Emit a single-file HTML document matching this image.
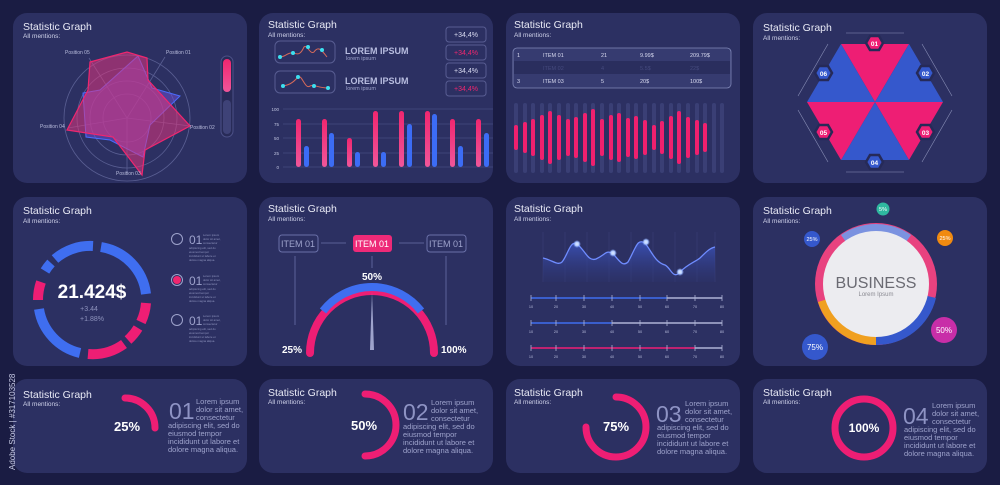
<!DOCTYPE html>
<html><head><meta charset="utf-8"><style>
html,body{margin:0;padding:0;background:#1a1c43;}
svg{display:block}
text{font-family:"Liberation Sans",sans-serif;}
.t{fill:#e8e9f5;font-size:10.5px}
.s{fill:#cfd2ea;font-size:6.5px}
.sm{fill:#b8bcdc;font-size:5px}
.lt{fill:#9ea3cc;font-size:7.5px}
</style></head><body>
<svg width="1000" height="485" viewBox="0 0 1000 485">
<rect width="1000" height="485" fill="#1a1c43"/>
<defs>
<linearGradient id="pk" x1="0" y1="0" x2="0" y2="1"><stop offset="0" stop-color="#f0266f"/><stop offset="1" stop-color="#f0569a"/></linearGradient>
<linearGradient id="area" x1="0" y1="0" x2="0" y2="1"><stop offset="0" stop-color="#3d57c8" stop-opacity=".8"/><stop offset="1" stop-color="#2d3470" stop-opacity=".3"/></linearGradient>
</defs>
<g fill="#2c3062">
<rect x="13" y="13" width="234" height="170" rx="14"/>
<rect x="259" y="13" width="234" height="170" rx="14"/>
<rect x="506" y="13" width="234" height="170" rx="14"/>
<rect x="753" y="13" width="234" height="170" rx="14"/>
<rect x="13" y="197" width="234" height="169" rx="14"/>
<rect x="259" y="197" width="234" height="169" rx="14"/>
<rect x="506" y="197" width="234" height="169" rx="14"/>
<rect x="753" y="197" width="234" height="169" rx="14"/>
<rect x="13" y="379" width="234" height="94" rx="14"/>
<rect x="259" y="379" width="234" height="94" rx="14"/>
<rect x="506" y="379" width="234" height="94" rx="14"/>
<rect x="753" y="379" width="234" height="94" rx="14"/>
</g>
<!-- titles -->
<text class="t" x="23" y="30">Statistic Graph</text><text class="s" x="23" y="38">All mentions:</text>
<text class="t" x="268" y="28">Statistic Graph</text><text class="s" x="268" y="37">All mentions:</text>
<text class="t" x="514" y="28">Statistic Graph</text><text class="s" x="514" y="37">All mentions:</text>
<text class="t" x="763" y="31">Statistic Graph</text><text class="s" x="763" y="40">All mentions:</text>
<text class="t" x="23" y="214">Statistic Graph</text><text class="s" x="23" y="223">All mentions:</text>
<text class="t" x="268" y="212">Statistic Graph</text><text class="s" x="268" y="221">All mentions:</text>
<text class="t" x="514" y="212">Statistic Graph</text><text class="s" x="514" y="221">All mentions:</text>
<text class="t" x="763" y="214">Statistic Graph</text><text class="s" x="763" y="223">All mentions:</text>
<text class="t" x="23" y="398">Statistic Graph</text><text class="s" x="23" y="406">All mentions:</text>
<text class="t" x="268" y="396">Statistic Graph</text><text class="s" x="268" y="404">All mentions:</text>
<text class="t" x="514" y="396">Statistic Graph</text><text class="s" x="514" y="404">All mentions:</text>
<text class="t" x="763" y="396">Statistic Graph</text><text class="s" x="763" y="404">All mentions:</text>

<!-- Panel 1 radar -->
<g fill="none" stroke="#5a5f93" stroke-width=".8">
<circle cx="127" cy="118" r="63"/><circle cx="127" cy="118" r="50"/><circle cx="127" cy="118" r="37"/><circle cx="127" cy="118" r="24"/>
<line x1="127" y1="118" x2="165" y2="57"/><line x1="127" y1="118" x2="190" y2="126"/><line x1="127" y1="118" x2="127" y2="173"/><line x1="127" y1="118" x2="68" y2="128"/><line x1="127" y1="118" x2="89" y2="58"/>
</g>
<polygon points="138,56 152,88 180,96 150,125 143,157 110,140 86,137 83,93 100,90" fill="#6b4fd0" fill-opacity=".55" stroke="#4a6cff" stroke-width="1"/>
<polygon points="90,62 127,52 147,58 148,80 190,126 145,150 142,175 113,137 67,130 88,90" fill="#e0347e" fill-opacity=".55" stroke="#f0266f" stroke-width="1.2"/>
<g class="sm" fill="#d0d3ee"><text x="65" y="54">Position 05</text><text x="166" y="54">Position 01</text><text x="190" y="129">Position 02</text><text x="116" y="175">Position 03</text><text x="40" y="128">Position 04</text></g>
<rect x="221" y="56" width="12" height="81" rx="6" fill="#282b58" stroke="#4c5188"/>
<rect x="223" y="59" width="8" height="33" rx="4" fill="url(#pk)"/>
<rect x="223" y="100" width="8" height="34" rx="4" fill="#3e4277"/>

<!-- Panel 2 -->
<g fill="none" stroke="#585d92"><rect x="275" y="41" width="60" height="22" rx="5"/><rect x="275" y="71" width="60" height="22" rx="5"/></g>
<path d="M280,57 C285,57 288,52 293,53 C297,54 300,56 304,47 C307,44 310,55 314,52 C318,46 321,49 327,57" fill="none" stroke="#d66a5a" stroke-width="1"/>
<path d="M283,86 C288,85 292,84 298,77 C302,74 305,90 310,86 C314,84 318,88 328,88" fill="none" stroke="#d66a5a" stroke-width="1"/>
<g fill="#3de0f0"><circle cx="280" cy="57" r="2"/><circle cx="293" cy="53" r="2"/><circle cx="308" cy="47" r="2"/><circle cx="322" cy="50" r="2"/><circle cx="283" cy="86" r="2"/><circle cx="298" cy="77" r="2"/><circle cx="314" cy="86" r="2"/><circle cx="328" cy="88" r="2"/></g>
<text x="345" y="54" fill="#b8bde0" font-size="9" font-weight="bold">LOREM IPSUM</text><text x="346" y="60" fill="#9ea3cc" font-size="5.5">lorem ipsum</text>
<text x="345" y="84" fill="#b8bde0" font-size="9" font-weight="bold">LOREM IPSUM</text><text x="346" y="90" fill="#9ea3cc" font-size="5.5">lorem ipsum</text>
<g fill="none" stroke="#585d92"><rect x="446" y="27" width="40" height="15" rx="3"/><rect x="446" y="45" width="40" height="15" rx="3"/><rect x="446" y="63" width="40" height="15" rx="3"/><rect x="446" y="81" width="40" height="15" rx="3"/></g>
<g font-size="7" text-anchor="middle"><text x="466" y="37" fill="#d8daf0">+34,4%</text><text x="466" y="55" fill="#f0266f">+34,4%</text><text x="466" y="73" fill="#d8daf0">+34,4%</text><text x="466" y="91" fill="#f0266f">+34,4%</text></g>
<g stroke="#444a80" stroke-width=".7"><line x1="283" y1="109" x2="493" y2="109"/><line x1="283" y1="124" x2="493" y2="124"/><line x1="283" y1="138" x2="493" y2="138"/><line x1="283" y1="153" x2="493" y2="153"/><line x1="283" y1="167" x2="493" y2="167"/></g>
<g fill="#c0c4e0" font-size="4.5" text-anchor="end"><text x="279" y="111">100</text><text x="279" y="126">75</text><text x="279" y="140">50</text><text x="279" y="155">25</text><text x="279" y="169">0</text></g>
<g fill="url(#pk)"><rect x="296" y="119" width="5" height="48" rx="2.5"/><rect x="322" y="119" width="5" height="48" rx="2.5"/><rect x="347" y="138" width="5" height="29" rx="2.5"/><rect x="373" y="111" width="5" height="56" rx="2.5"/><rect x="399" y="111" width="5" height="56" rx="2.5"/><rect x="425" y="111" width="5" height="56" rx="2.5"/><rect x="450" y="119" width="5" height="48" rx="2.5"/><rect x="476" y="119" width="5" height="48" rx="2.5"/></g>
<g fill="#3c6cf5"><rect x="304" y="146" width="5" height="21" rx="2.5"/><rect x="329" y="133" width="5" height="34" rx="2.5"/><rect x="355" y="152" width="5" height="15" rx="2.5"/><rect x="381" y="152" width="5" height="15" rx="2.5"/><rect x="407" y="124" width="5" height="43" rx="2.5"/><rect x="432" y="114" width="5" height="53" rx="2.5"/><rect x="458" y="146" width="5" height="21" rx="2.5"/><rect x="484" y="133" width="5" height="34" rx="2.5"/></g>

<!-- Panel 3 table -->
<rect x="513" y="48" width="218" height="40" rx="4" fill="#363b70" stroke="#8088b8" stroke-width=".8"/>
<rect x="514" y="61" width="216" height="13" fill="#2a2e5e"/>
<g fill="#d8daf0" font-size="5.5"><text x="517" y="57">1</text><text x="543" y="57">ITEM 01</text><text x="601" y="57">21</text><text x="640" y="57">9.99$</text><text x="690" y="57">209.79$</text>
<text x="517" y="83">3</text><text x="543" y="83">ITEM 03</text><text x="601" y="83">5</text><text x="640" y="83">20$</text><text x="690" y="83">100$</text></g>
<g fill="#454a7e" font-size="5.5"><text x="543" y="70">ITEM 02</text><text x="601" y="70">4</text><text x="640" y="70">5.5$</text><text x="690" y="70">22$</text></g>
<g id="wbars"></g>

<!-- Panel 4 hex -->
<polygon points="875,102 841,44 909,44" fill="#ee1e74"/>
<polygon points="875,102 909,44 943,102" fill="#3558cc"/>
<polygon points="875,102 943,102 909,160" fill="#ee1e74"/>
<polygon points="875,102 909,160 841,160" fill="#3558cc"/>
<polygon points="875,102 841,160 807,102" fill="#ee1e74"/>
<polygon points="875,102 807,102 841,44" fill="#3558cc"/>
<g stroke="#8a8fb8" stroke-width=".6" fill="none"><line x1="846" y1="33" x2="904" y2="33"/><line x1="922" y1="44" x2="952" y2="96"/><line x1="952" y1="110" x2="922" y2="162"/><line x1="846" y1="172" x2="904" y2="172"/><line x1="828" y1="162" x2="798" y2="110"/><line x1="798" y1="96" x2="828" y2="44"/></g>
<g id="hexb"></g>

<!-- Row2 P1 donut -->
<g fill="none" stroke-width="10">
<circle id="dn" cx="92" cy="300" r="54" stroke="none"/>
</g>
<g id="donut"></g>
<text x="92" y="298" fill="#fff" font-size="19" font-weight="bold" text-anchor="middle">21.424$</text>
<text x="89" y="311" fill="#8e93bd" font-size="7" font-family="Liberation Serif" text-anchor="middle">+3.44</text>
<text x="92" y="321" fill="#8e93bd" font-size="7" font-family="Liberation Serif" text-anchor="middle">+1.88%</text>
<g fill="none" stroke="#9ea3cc"><circle cx="177" cy="239" r="5.5"/><circle cx="177" cy="280" r="5.5"/><circle cx="177" cy="320" r="5.5"/></g>
<circle cx="177" cy="280" r="4" fill="#f0266f"/>
<g fill="#9ea3cc" font-size="12"><text x="189" y="244">01</text><text x="189" y="285">01</text><text x="189" y="325">01</text></g>
<g fill="#8e93bd" font-size="2.8"><text x="203" y="236">Lorem ipsum</text><text x="203" y="240">dolor sit amet,</text><text x="203" y="244">consectetur</text><text x="189" y="249">adipiscing elit, sed do</text><text x="189" y="253">eiusmod tempor</text><text x="189" y="257">incididunt ut labore et</text><text x="189" y="261">dolore magna aliqua.</text>
<text x="203" y="277">Lorem ipsum</text><text x="203" y="281">dolor sit amet,</text><text x="203" y="285">consectetur</text><text x="189" y="290">adipiscing elit, sed do</text><text x="189" y="294">eiusmod tempor</text><text x="189" y="298">incididunt ut labore et</text><text x="189" y="302">dolore magna aliqua.</text>
<text x="203" y="317">Lorem ipsum</text><text x="203" y="321">dolor sit amet,</text><text x="203" y="325">consectetur</text><text x="189" y="330">adipiscing elit, sed do</text><text x="189" y="334">eiusmod tempor</text><text x="189" y="338">incididunt ut labore et</text><text x="189" y="342">dolore magna aliqua.</text></g>

<!-- Row2 P2 gauge -->
<rect x="279" y="235" width="39" height="17" rx="3" fill="none" stroke="#6a70a8"/>
<rect x="353" y="235" width="39" height="17" rx="3" fill="#ee2a78"/>
<rect x="427" y="235" width="39" height="17" rx="3" fill="none" stroke="#6a70a8"/>
<g font-size="9" text-anchor="middle"><text x="298" y="247" fill="#9ea3cc">ITEM 01</text><text x="372" y="247" fill="#fff">ITEM 01</text><text x="446" y="247" fill="#9ea3cc">ITEM 01</text></g>
<g stroke="#6a70a8" stroke-width=".8"><line x1="321" y1="243" x2="346" y2="243"/><line x1="399" y1="243" x2="424" y2="243"/><line x1="295" y1="256" x2="295" y2="325"/><line x1="372" y1="256" x2="372" y2="268"/><line x1="446" y1="256" x2="446" y2="325"/></g>
<text x="372" y="280" fill="#fff" font-size="10" font-weight="bold" text-anchor="middle">50%</text>
<path d="M310,353 A62,62 0 0 1 434,353" fill="none" stroke="#ee1e74" stroke-width="8" stroke-linecap="round"/>
<path d="M323,311 A62,62 0 0 1 421,311" fill="none" stroke="#3f6ef0" stroke-width="8"/>
<polygon points="372,292 370,350 374,350" fill="#9ea3cc"/>
<text x="282" y="353" fill="#fff" font-size="10" font-weight="bold">25%</text>
<text x="441" y="353" fill="#fff" font-size="10" font-weight="bold">100%</text>

<!-- Row2 P3 line chart -->
<g stroke="#3a4078" stroke-width=".5"><line x1="543" y1="232" x2="543" y2="282"/><line x1="565" y1="232" x2="565" y2="282"/><line x1="587" y1="232" x2="587" y2="282"/><line x1="609" y1="232" x2="609" y2="282"/><line x1="631" y1="232" x2="631" y2="282"/><line x1="653" y1="232" x2="653" y2="282"/><line x1="675" y1="232" x2="675" y2="282"/><line x1="697" y1="232" x2="697" y2="282"/><line x1="715" y1="232" x2="715" y2="282"/></g>
<path d="M543,258 C552,260 558,266 562,262 C568,255 570,240 577,244 C585,250 588,262 596,259 C605,255 606,250 612,253 C618,258 622,268 628,262 C636,248 637,238 645,243 C652,252 655,262 665,265 C671,268 673,280 680,272 C688,264 695,262 700,258 C706,252 710,248 715,247 L715,282 L543,282 Z" fill="url(#area)"/>
<path d="M543,258 C552,260 558,266 562,262 C568,255 570,240 577,244 C585,250 588,262 596,259 C605,255 606,250 612,253 C618,258 622,268 628,262 C636,248 637,238 645,243 C652,252 655,262 665,265 C671,268 673,280 680,272 C688,264 695,262 700,258 C706,252 710,248 715,247" fill="none" stroke="#6f8cff" stroke-width="1.3"/>
<g fill="#cfe0ff" stroke="#8fb0ff" stroke-opacity=".5" stroke-width="2"><circle cx="577" cy="244" r="2.5"/><circle cx="613" cy="253" r="2.5"/><circle cx="646" cy="242" r="2.5"/><circle cx="680" cy="272" r="2.5"/></g>
<g id="sliders"></g>

<!-- Row2 P4 business -->
<circle cx="876" cy="284" r="61" fill="#e8427f"/>
<path d="M841,235 A61,61 0 0 1 911,235 L876,284 Z" fill="#7b92e0"/>
<path d="M936,298 A61,61 0 0 1 876,345 L876,284 Z" fill="#3558cc"/>
<path d="M876,345 A61,61 0 0 1 818,302 L876,284 Z" fill="#f0a020"/>
<circle cx="876" cy="284" r="53" fill="#ececf0"/>
<text x="876" y="288" fill="#6a6a72" font-size="16" text-anchor="middle">BUSINESS</text>
<text x="876" y="296" fill="#8a8a92" font-size="6" text-anchor="middle">Lorem  Ipsum</text>
<circle cx="883" cy="209" r="6.5" fill="#2fb8a0"/><text x="883" y="211" fill="#fff" font-size="5.5" text-anchor="middle">5%</text>
<circle cx="812" cy="239" r="8" fill="#3558cc"/><text x="812" y="241" fill="#fff" font-size="5.5" text-anchor="middle">25%</text>
<circle cx="945" cy="238" r="8" fill="#f08a10"/><text x="945" y="240" fill="#fff" font-size="5.5" text-anchor="middle">25%</text>
<circle cx="944" cy="330" r="13" fill="#c82ea8"/><text x="944" y="333" fill="#fff" font-size="8" text-anchor="middle">50%</text>
<circle cx="815" cy="347" r="13" fill="#3558cc"/><text x="815" y="350" fill="#fff" font-size="8" text-anchor="middle">75%</text>

<!-- Row3 rings -->
<path d="M125,398 A30,30 0 0 1 155,428" fill="none" stroke="#ee1e74" stroke-width="7" stroke-linecap="round"/>
<text x="127" y="431" fill="#fff" font-size="13" font-weight="bold" text-anchor="middle">25%</text>
<path d="M365,394 A31,31 0 0 1 365,456" fill="none" stroke="#ee1e74" stroke-width="7" stroke-linecap="round"/>
<text x="364" y="430" fill="#fff" font-size="13" font-weight="bold" text-anchor="middle">50%</text>
<path d="M616,397 A30,30 0 1 1 586,427" fill="none" stroke="#ee1e74" stroke-width="7" stroke-linecap="round"/>
<text x="616" y="431" fill="#fff" font-size="13" font-weight="bold" text-anchor="middle">75%</text>
<circle cx="864" cy="428" r="29" fill="none" stroke="#ee1e74" stroke-width="7"/>
<text x="864" y="432" fill="#fff" font-size="12" font-weight="bold" text-anchor="middle">100%</text>
<g fill="#8e93c4" font-size="23"><text x="169" y="419">01</text><text x="403" y="420">02</text><text x="656" y="422">03</text><text x="903" y="424">04</text></g>
<g class="lt">
<text x="196" y="404">Lorem ipsum</text><text x="196" y="412">dolor sit amet,</text><text x="196" y="420">consectetur</text><text x="168" y="428">adipiscing elit, sed do</text><text x="168" y="436">eiusmod tempor</text><text x="168" y="444">incididunt ut labore et</text><text x="168" y="452">dolore magna aliqua.</text>
<text x="431" y="405">Lorem ipsum</text><text x="431" y="413">dolor sit amet,</text><text x="431" y="421">consectetur</text><text x="403" y="429">adipiscing elit, sed do</text><text x="403" y="437">eiusmod tempor</text><text x="403" y="445">incididunt ut labore et</text><text x="403" y="453">dolore magna aliqua.</text>
<text x="685" y="406">Lorem ipsum</text><text x="685" y="414">dolor sit amet,</text><text x="685" y="422">consectetur</text><text x="657" y="430">adipiscing elit, sed do</text><text x="657" y="438">eiusmod tempor</text><text x="657" y="446">incididunt ut labore et</text><text x="657" y="454">dolore magna aliqua.</text>
<text x="932" y="408">Lorem ipsum</text><text x="932" y="416">dolor sit amet,</text><text x="932" y="424">consectetur</text><text x="904" y="432">adipiscing elit, sed do</text><text x="904" y="440">eiusmod tempor</text><text x="904" y="448">incididunt ut labore et</text><text x="904" y="456">dolore magna aliqua.</text>
</g>
<text transform="translate(15,470) rotate(-90)" fill="#c8cbe6" font-size="8">Adobe Stock | #317103528</text>

<!-- waveform bars -->
<g fill="#3a3f75">
<rect x="514" y="103" width="4" height="70" rx="2"/><rect x="523" y="103" width="4" height="70" rx="2"/><rect x="531" y="103" width="4" height="70" rx="2"/><rect x="540" y="103" width="4" height="70" rx="2"/><rect x="548" y="103" width="4" height="70" rx="2"/><rect x="557" y="103" width="4" height="70" rx="2"/><rect x="566" y="103" width="4" height="70" rx="2"/><rect x="574" y="103" width="4" height="70" rx="2"/><rect x="583" y="103" width="4" height="70" rx="2"/><rect x="591" y="103" width="4" height="70" rx="2"/><rect x="600" y="103" width="4" height="70" rx="2"/><rect x="609" y="103" width="4" height="70" rx="2"/><rect x="617" y="103" width="4" height="70" rx="2"/><rect x="626" y="103" width="4" height="70" rx="2"/><rect x="634" y="103" width="4" height="70" rx="2"/><rect x="643" y="103" width="4" height="70" rx="2"/><rect x="652" y="103" width="4" height="70" rx="2"/><rect x="660" y="103" width="4" height="70" rx="2"/><rect x="669" y="103" width="4" height="70" rx="2"/><rect x="677" y="103" width="4" height="70" rx="2"/><rect x="686" y="103" width="4" height="70" rx="2"/><rect x="695" y="103" width="4" height="70" rx="2"/><rect x="703" y="103" width="4" height="70" rx="2"/><rect x="712" y="103" width="4" height="70" rx="2"/><rect x="720" y="103" width="4" height="70" rx="2"/>
</g>
<g fill="#f0206e">
<rect x="514" y="125" width="4" height="25" rx="2"/><rect x="523" y="122" width="4" height="31" rx="2"/><rect x="531" y="119" width="4" height="37" rx="2"/><rect x="540" y="115" width="4" height="45" rx="2"/><rect x="548" y="111" width="4" height="53" rx="2"/><rect x="557" y="115" width="4" height="45" rx="2"/><rect x="566" y="119" width="4" height="37" rx="2"/><rect x="574" y="117" width="4" height="41" rx="2"/><rect x="583" y="113" width="4" height="49" rx="2"/><rect x="591" y="109" width="4" height="57" rx="2"/><rect x="600" y="119" width="4" height="37" rx="2"/><rect x="609" y="115" width="4" height="45" rx="2"/><rect x="617" y="113" width="4" height="49" rx="2"/><rect x="626" y="118" width="4" height="39" rx="2"/><rect x="634" y="116" width="4" height="43" rx="2"/><rect x="643" y="120" width="4" height="35" rx="2"/><rect x="652" y="125" width="4" height="25" rx="2"/><rect x="660" y="121" width="4" height="33" rx="2"/><rect x="669" y="116" width="4" height="43" rx="2"/><rect x="677" y="111" width="4" height="53" rx="2"/><rect x="686" y="117" width="4" height="41" rx="2"/><rect x="695" y="120" width="4" height="35" rx="2"/><rect x="703" y="123" width="4" height="29" rx="2"/></g>

<!-- hex badges -->
<g stroke="#262a58" stroke-width="2.5">
<polygon points="866,43 870,36 879,36 883,43 879,50 870,50" fill="#ee1e74"/>
<polygon points="917,73 921,66 930,66 934,73 930,80 921,80" fill="#3558cc"/>
<polygon points="917,132 921,125 930,125 934,132 930,139 921,139" fill="#ee1e74"/>
<polygon points="866,162 870,155 879,155 883,162 879,169 870,169" fill="#3558cc"/>
<polygon points="815,132 819,125 828,125 832,132 828,139 819,139" fill="#ee1e74"/>
<polygon points="815,73 819,66 828,66 832,73 828,80 819,80" fill="#3558cc"/>
</g>
<g fill="#fff" font-size="6.5" font-weight="bold" text-anchor="middle"><text x="874.5" y="46">01</text><text x="925.5" y="76">02</text><text x="925.5" y="135">03</text><text x="874.5" y="165">04</text><text x="823.5" y="135">05</text><text x="823.5" y="76">06</text></g>

<!-- donut segments (center 92,300 r54) -->
<g fill="none" stroke-width="10">
<path d="M101,247 A54,54 0 0 1 146,294" stroke="#3f6ef0"/>
<path d="M146,303 A54,54 0 0 1 141,322" stroke="#ee1e74"/>
<path d="M138,328 A54,54 0 0 1 128,340" stroke="#ee1e74"/>
<path d="M124,344 A54,54 0 0 1 88,354" stroke="#ee1e74"/>
<path d="M80,353 A54,54 0 0 1 39,309" stroke="#3f6ef0"/>
<path d="M38,300 A54,54 0 0 1 41,282" stroke="#ee1e74"/>
<path d="M45,271 A54,54 0 0 1 51,263" stroke="#3f6ef0"/>
<path d="M55,259 A54,54 0 0 1 93,246" stroke="#3f6ef0"/>
</g>

<!-- sliders -->
<g stroke-width="1.5">
<line x1="531" y1="298" x2="667" y2="298" stroke="#3f6ef0"/><line x1="667" y1="298" x2="722" y2="298" stroke="#aeb3d6"/>
<line x1="531" y1="323" x2="612" y2="323" stroke="#3f6ef0"/><line x1="612" y1="323" x2="722" y2="323" stroke="#aeb3d6"/>
<line x1="531" y1="348" x2="695" y2="348" stroke="#ee1e74"/><line x1="695" y1="348" x2="722" y2="348" stroke="#aeb3d6"/>
</g>
<g stroke="#aeb3d6" stroke-width=".8">
<path d="M531,295v6M556,295v6M584,295v6M612,295v6M640,295v6M667,295v6M695,295v6M722,295v6"/>
<path d="M531,320v6M556,320v6M584,320v6M612,320v6M640,320v6M667,320v6M695,320v6M722,320v6"/>
<path d="M531,345v6M556,345v6M584,345v6M612,345v6M640,345v6M667,345v6M695,345v6M722,345v6"/>
</g>
<g fill="#b8bcdc" font-size="3.8" text-anchor="middle">
<text x="531" y="308">10</text><text x="556" y="308">20</text><text x="584" y="308">30</text><text x="612" y="308">40</text><text x="640" y="308">50</text><text x="667" y="308">60</text><text x="695" y="308">70</text><text x="722" y="308">80</text>
<text x="531" y="333">10</text><text x="556" y="333">20</text><text x="584" y="333">30</text><text x="612" y="333">40</text><text x="640" y="333">50</text><text x="667" y="333">60</text><text x="695" y="333">70</text><text x="722" y="333">80</text>
<text x="531" y="358">10</text><text x="556" y="358">20</text><text x="584" y="358">30</text><text x="612" y="358">40</text><text x="640" y="358">50</text><text x="667" y="358">60</text><text x="695" y="358">70</text><text x="722" y="358">80</text>
</g>
</svg>
</body></html>
